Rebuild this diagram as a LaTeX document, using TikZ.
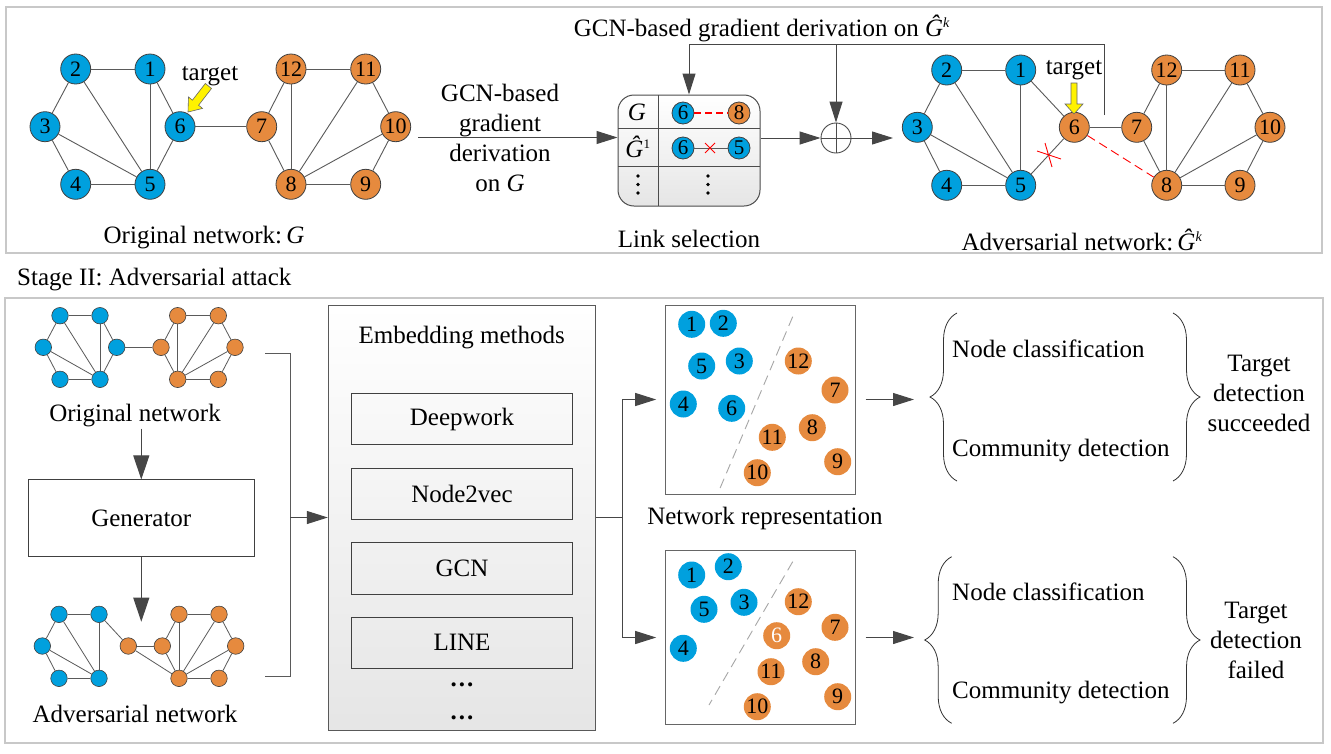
\documentclass[tikz,border=0pt]{standalone}
\usepackage{fontspec}
\setmainfont{Liberation Serif}
\usetikzlibrary{arrows.meta,decorations.pathreplacing,calc}
\definecolor{nblue}{RGB}{0,160,222}
\definecolor{norange}{RGB}{230,138,62}
\definecolor{ndark}{RGB}{64,64,64}
\definecolor{egray}{RGB}{90,90,90}
\definecolor{adark}{RGB}{70,70,70}
\definecolor{framegray}{RGB}{200,200,200}
\newcommand\txtf{\rmfamily\fontsize{25}{30}\selectfont}
\newcommand\numf{\rmfamily\fontsize{22}{24}\selectfont}
\newcommand\lnumf{\rmfamily\fontsize{21}{24}\selectfont}
\begin{document}
\begin{tikzpicture}[x=1pt,y=-1pt,
  bn/.style={circle,draw=ndark,line width=0.8pt,fill=nblue,minimum size=30pt,inner sep=0pt,font=\numf},
  on/.style={bn,fill=norange},
  lbn/.style={bn,minimum size=22pt,font=\lnumf},
  lon/.style={lbn,fill=norange},
  sbn/.style={circle,draw=ndark,line width=0.6pt,fill=nblue,minimum size=16.5pt,inner sep=0pt},
  son/.style={sbn,fill=norange},
  cb/.style={circle,fill=nblue,minimum size=27pt,inner sep=0pt,font=\numf},
  co/.style={cb,fill=norange},
  edge/.style={draw=egray,line width=0.9pt},
  arr/.style={draw=adark,line width=1pt,-{Triangle[length=21pt,width=13pt]}},
  varr/.style={draw=adark,line width=1pt,-{Triangle[length=24pt,width=16pt]}},
  frame/.style={draw=framegray,line width=1.5pt},
  txt/.style={font=\txtf,inner sep=1pt},
  box/.style={draw=black!75,line width=1pt},
  brc/.style={draw=black!80,line width=0.8pt,decorate,decoration={brace,amplitude=27pt,aspect=0.5}},
  redx/.style={draw=red,line width=0.9pt},
]
\useasboundingbox (0,0) rectangle (1331,753);
\fill[white] (0,0) rectangle (1331,753);

% frames
\draw[frame] (6,7) rectangle (1322,253);
\draw[frame] (5,298) rectangle (1323,743);
\node[txt,anchor=west] (stage2) at (16,280) {Stage II: Adversarial attack};

% ---------------- top-left graph ----------------
\foreach \n/\x/\y in {1/150/69,2/75.7/69,3/45/126.7,4/75.7/184.3,5/150/184.3,6/180/126.7}
  \node[bn] (g\n) at (\x,\y) {\n};
\foreach \n/\x/\y in {7/261.7/126.7,8/291/184.3,9/365.7/184.3,10/395.7/126.7,11/365.7/69,12/291/69}
  \node[on] (g\n) at (\x,\y) {\n};
\foreach \a/\b in {2/1,2/3,2/5,1/5,1/6,3/5,3/4,4/5,5/6,6/7,12/11,12/7,12/8,7/8,11/8,11/10,10/8,10/9,8/9}
  \draw[edge] (g\a) -- (g\b);
\node[txt] (tgt1) at (210,76) {target};
\filldraw[fill=yellow,draw=black!60,line width=0.6pt]
  (211.5,88.5) -- (198.6,105.2) -- (202.5,108.4) -- (188,112) -- (188.5,97.0) -- (192.4,100.2) -- (205.3,83.5) -- cycle;
\node[txt] (cap1) at (204,238) {Original network:\,\textit{G}};

% ---------------- arrow with text ----------------
\node[txt,align=center] (gcntxt) at (500,138) {GCN-based\\gradient\\derivation\\on \textit{G}};

% ---------------- link selection ----------------
\node[box,draw=black!70,rounded corners=16pt,minimum width=142pt,minimum height=111pt,top color=white,bottom color=black!10,inner sep=0pt] (ls) at (689,150.5) {};
\draw[draw=black!70,line width=0.8pt] (658,95) -- (658,206);
\draw[draw=black!70,line width=0.8pt] (618,128) -- (760,128);
\draw[draw=black!70,line width=0.8pt] (618,166) -- (760,166);
\node[txt] (lg) at (637,112) {\textit{G}};
\node[txt] (lgh) at (638,147) {\textit{Ĝ}\textsuperscript{\fontsize{13}{14}\selectfont 1}};
\node[lbn] (l6a) at (683,113) {6};
\node[lon] (l8) at (739,113) {8};
\node[lbn] (l6b) at (683,148) {6};
\node[lbn] (l5) at (739,148) {5};
\draw[draw=red,line width=1.3pt,dash pattern=on 7pt off 4pt] (l6a) -- (l8);
\draw[edge] (l6b) -- (l5);
\draw[redx] (705,143) -- (715,153) (705,153) -- (715,143);
\foreach \xx in {638,708} {
  \foreach \yy in {176,184.5,193} \fill[black] (\xx,\yy) circle (1.8pt);
}
\node[txt] (cap2) at (689,239) {Link selection};

% arrow into link selection
\coordinate (a0) at (418,137.5);
\draw[arr] (a0) -- (a0 -| ls.west);

% oplus
\node[circle,draw=black!70,line width=0.9pt,minimum size=30pt,inner sep=0pt] (op) at (836,138) {};
\draw[draw=black!70,line width=0.9pt] (op.north) -- (op.south) (op.west) -- (op.east);
\draw[arr] (ls.east |- op.west) -- (op.west);
\coordinate (oe) at (893,138);
\draw[arr] (op.east) -- (oe);

% feedback loop
\coordinate (fb0) at (1104,115);
\coordinate (fb1) at (1104,44);
\coordinate (fb2) at (689,44);
\draw[arr] (fb0) -- (fb1) -- (fb2) -- (ls.north);
\draw[arr] (op.north |- fb1) -- (op.north);
\node[txt] (gcntop) at (762,28) {GCN-based gradient derivation on \textit{Ĝ}\textsuperscript{\fontsize{14}{14}\selectfont\textit{k}}};

% ---------------- top-right graph ----------------
\foreach \n/\x/\y in {1/1020.7/70,2/946.7/70,3/917.3/127.3,4/946.7/185.3,5/1020.7/185.3}
  \node[bn] (h\n) at (\x,\y) {\n};
\foreach \n/\x/\y in {6/1074.3/127.3,7/1136.7/127.3,8/1166.7/185.3,9/1240/185.3,10/1270/127.3,11/1240/70,12/1166.7/70}
  \node[on] (h\n) at (\x,\y) {\n};
\foreach \a/\b in {2/1,2/3,2/5,1/5,1/6,3/5,3/4,4/5,5/6,6/7,12/11,12/7,12/8,7/8,11/8,11/10,10/8,10/9,8/9}
  \draw[edge] (h\a) -- (h\b);
\draw[draw=red,line width=0.9pt,dash pattern=on 9pt off 5pt] (h6) -- (h8);
\draw[redx] (1037,151) -- (1061,159) (1045,143) -- (1052,167);
\node[txt] (tgt2) at (1074,70) {target};
\filldraw[fill=yellow,draw=black!60,line width=0.6pt]
  (1071,83) -- (1077,83) -- (1077,104) -- (1083,104) -- (1074,114) -- (1065,104) -- (1071,104) -- cycle;
\node[txt] (cap3) at (1082,240) {Adversarial network:\,\textit{Ĝ}\textsuperscript{\fontsize{14}{14}\selectfont\textit{k}}};

% ---------------- bottom-left small networks ----------------
\foreach \n/\x/\y in {1/100/315.7,2/60/315.7,3/43.3/347.3,4/60/379.3,5/100/379.3,6/116.7/347.3}
  \node[sbn] (s\n) at (\x,\y) {};
\foreach \n/\x/\y in {7/161/347.3,8/177.7/379.3,9/218.3/379.3,10/235/347.3,11/218.3/315.7,12/177.7/315.7}
  \node[son] (s\n) at (\x,\y) {};
\foreach \a/\b in {2/1,2/3,2/5,1/5,1/6,3/5,3/4,4/5,5/6,6/7,12/11,12/7,12/8,7/8,11/8,11/10,10/8,10/9,8/9}
  \draw[edge,line width=0.8pt] (s\a) -- (s\b);
\node[txt] (origtxt) at (135,416) {Original network};

\foreach \n/\x/\y in {1/99/614.3,2/59/614.3,3/42.3/646,4/59/678.3,5/99/678.3}
  \node[sbn] (t\n) at (\x,\y) {};
\foreach \n/\x/\y in {6/128.3/646,7/162.3/646,8/179/678.3,9/219/678.3,10/235.7/646,11/219/614.3,12/179/614.3}
  \node[son] (t\n) at (\x,\y) {};
\foreach \a/\b in {2/1,2/3,2/5,1/5,1/6,3/5,3/4,4/5,6/7,6/8,12/11,12/7,12/8,7/8,11/8,11/10,10/8,10/9,8/9}
  \draw[edge,line width=0.8pt] (t\a) -- (t\b);
\node[txt] (advtxt) at (135,714) {Adversarial network};

\node[box,minimum width=226pt,minimum height=76.7pt,inner sep=0pt,font=\txtf] (gen) at (141.3,518.3) {Generator};
\draw[varr] (origtxt.south -| gen.north) -- (gen.north);
\coordinate (genend) at (141.3,621.7);
\draw[varr] (gen.south) -- (genend);

% bracket to embedding
\coordinate (br0) at (265,353.3);
\coordinate (br1) at (290,353.3);
\coordinate (br2) at (290,676);
\coordinate (br3) at (265,676);
\draw[edge,line width=1pt] (br0) -- (br1) -- (br2) -- (br3);

% ---------------- embedding box ----------------
\node[box,draw=black!65,minimum width=267.4pt,minimum height=425pt,top color=white,bottom color=black!10,inner sep=0pt] (emb) at (462,517.5) {};
\draw[arr] (br1 |- emb.west) -- (emb.west);
\node[txt] (embt) at (461.7,337.7) {Embedding methods};
\foreach \nm/\yy/\lab in {m1/419.2/Deepwork,m2/493.8/Node2vec,m3/568.3/GCN,m4/642.8/LINE}
  \node[box,minimum width=220.6pt,minimum height=51.5pt,inner sep=0pt,font=\txtf] (\nm) at (462,\yy) {\lab};
\node[txt] (dots1) at (462,685) {\textbf{.\kern2pt.\kern2pt.}};
\node[txt] (dots2) at (462,717.5) {\textbf{.\kern2pt.\kern2pt.}};

% ---------------- scatter plots ----------------
\node[draw=black!60,line width=1pt,minimum width=189.3pt,minimum height=189pt,inner sep=0pt] (sc1) at (760.35,399.5) {};
\node[draw=black!60,line width=1pt,minimum width=189.3pt,minimum height=173.6pt,inner sep=0pt] (sc2) at (760.35,637.5) {};
\draw[draw=black!35,line width=0.9pt,dash pattern=on 10pt off 6pt] (792.7,316.7) -- (720,488.3);
\draw[draw=black!35,line width=0.9pt,dash pattern=on 10pt off 6pt] (792.7,561.7) -- (709,705);
\foreach \n/\x/\y in {1/691.7/324.3,2/723.3/323.3,5/701.7/366,3/739.3/361,4/683.3/404,6/731.7/408.3}
  \node[cb] (p\n) at (\x,\y) {\n};
\foreach \n/\x/\y in {12/798.3/361,7/835/390,8/812.3/427.7,11/772.3/437.3,9/837.7/461.7,10/757.3/472.7}
  \node[co] (p\n) at (\x,\y) {\n};
\foreach \n/\x/\y in {1/691.7/575,2/728.3/566.7,5/704/609.3,3/744/602.3,4/683.3/648.3}
  \node[cb] (q\n) at (\x,\y) {\n};
\foreach \n/\x/\y in {12/798.3/601.7,7/835/627.3,8/815.7/661.7,11/771/671.7,9/837.7/696.7,10/757.3/706.7}
  \node[co] (q\n) at (\x,\y) {\n};
\node[co,text=white] (q6) at (776.7,635.7) {6};
\node[txt] (nrep) at (765,518.3) {Network representation};

% fan-out from embedding box
\coordinate (fo) at (622.3,517.5);
\draw[edge,draw=adark,line width=1pt] (emb.east) -- (fo);
\draw[arr,shorten >=9pt] (fo) |- (sc1.west);
\draw[arr,shorten >=9pt] (fo) |- (sc2.west);

% arrows to braces
\coordinate (e1) at (914,399.5);
\coordinate (e2) at (914,637.5);
\draw[arr,shorten <=10pt] (sc1.east) -- (e1);
\draw[arr,shorten <=10pt] (sc2.east) -- (e2);

% ---------------- braces and tasks ----------------
\coordinate (b1a) at (957,481);
\coordinate (b1b) at (957,313);
\draw[brc] (b1a) -- (b1b);
\coordinate (b1c) at (1173,313);
\coordinate (b1d) at (1173,481);
\draw[brc] (b1c) -- (b1d);
\node[txt,anchor=west] (nc1) at (951,349.3) {Node classification};
\node[txt,anchor=west] (cd1) at (951,450.7) {Community detection};
\node[txt,align=center] (res1) at (1259,393) {Target\\detection\\succeeded};

\coordinate (b2a) at (951.7,723.3);
\coordinate (b2b) at (951.7,556.7);
\draw[brc] (b2a) -- (b2b);
\coordinate (b2c) at (1173,556.7);
\coordinate (b2d) at (1173,723.3);
\draw[brc] (b2c) -- (b2d);
\node[txt,anchor=west] (nc2) at (951,591.7) {Node classification};
\node[txt,anchor=west] (cd2) at (951,692.7) {Community detection};
\node[txt,align=center] (res2) at (1256,640.3) {Target\\detection\\failed};
\end{tikzpicture}
\end{document}
